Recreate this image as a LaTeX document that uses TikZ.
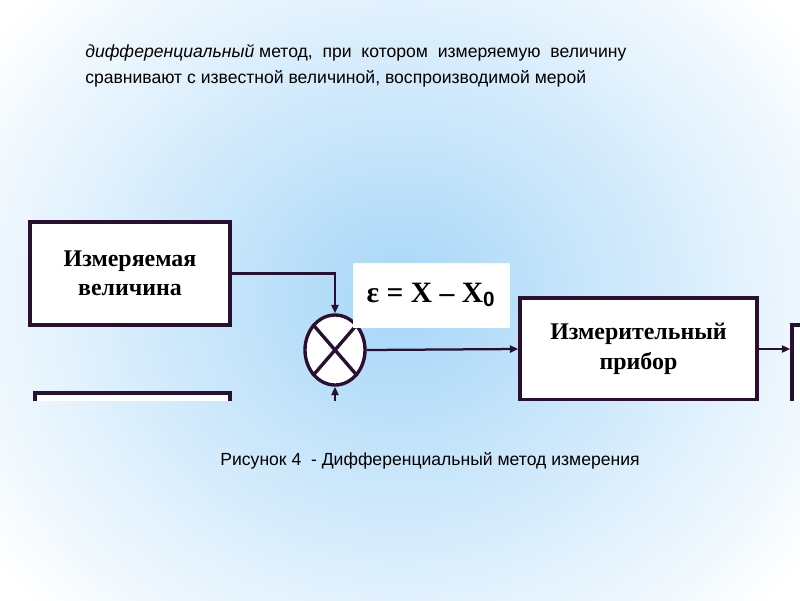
\documentclass[tikz,border=0pt]{standalone}
\usepackage{fontspec}
\setmainfont{Liberation Sans}
\newfontfamily\serifb{Liberation Serif}
\usetikzlibrary{arrows.meta,shapes.geometric}
\definecolor{frame}{HTML}{2A1030}
\definecolor{bgblue}{HTML}{A6D6F8}
\begin{document}
\begin{tikzpicture}[x=0.025cm,y=-0.025cm,
  blk/.style={draw=frame,line width=2.4pt,fill=white,inner sep=0pt},
  btxt/.style={font=\serifb\bfseries\fontsize{17}{21}\selectfont,align=center,text=black},
  conn/.style={draw=frame,line width=1.6pt,-{Triangle[length=6pt,width=5pt]}},
  every node/.style={inner sep=0pt}]
\useasboundingbox (0,0) rectangle (800,600);
\begin{scope}
\clip (0,0) rectangle (800,600);
\shade[inner color=bgblue,outer color=white] (-100,-150) rectangle (900,750);
\end{scope}
\begin{scope}
\clip (0,0) rectangle (800,400);
\node[blk,minimum width=200*0.025cm,minimum height=103*0.025cm,btxt] (b1) at (130,273.5) {Измеряемая\\величина};
\node[draw=frame,line width=2.4pt,fill=white,minimum width=60*0.025cm,minimum height=70*0.025cm,ellipse] (c) at (335,350) {};
\draw[frame,line width=2.4pt] (c.north west)--(c.south east) (c.north east)--(c.south west);
\node[fill=white,minimum width=157*0.025cm,minimum height=65*0.025cm,font=\serifb\bfseries\fontsize{21}{24}\selectfont] (eps) at (431,295) {ε = X – X$_{\mathbf 0}$};
\node[blk,minimum width=237*0.025cm,minimum height=102*0.025cm,btxt] (b2) at (638.5,349) {Измерительный\\прибор};
\node[blk,minimum width=40*0.025cm,minimum height=100*0.025cm] (b3) at (812,375) {};
\node[blk,minimum width=195*0.025cm,minimum height=40*0.025cm] (b4) at (132.5,413) {};
\coordinate (cb) at (335,402);
\draw[conn] (b1.east) -| (c.north);
\draw[conn] (cb) -- (c.south);
\draw[conn] (c.east) -- (b2.west);
\draw[conn] (b2.east) -- (b3.west|-b2.east);
\end{scope}
\node[anchor=west,font=\fontsize{12.5}{15}\selectfont] (t1) at (85,53) {\textit{дифференциальный} метод,\ \ при\ \ котором\ \ измеряемую\ \ величину};
\node[anchor=west,font=\fontsize{12.5}{15}\selectfont] (t2) at (85,79) {сравнивают с известной величиной, воспроизводимой мерой};
\node[font=\fontsize{12.5}{15}\selectfont] (cap) at (430,461) {Рисунок 4\ \ - Дифференциальный метод измерения};
\end{tikzpicture}
\end{document}
